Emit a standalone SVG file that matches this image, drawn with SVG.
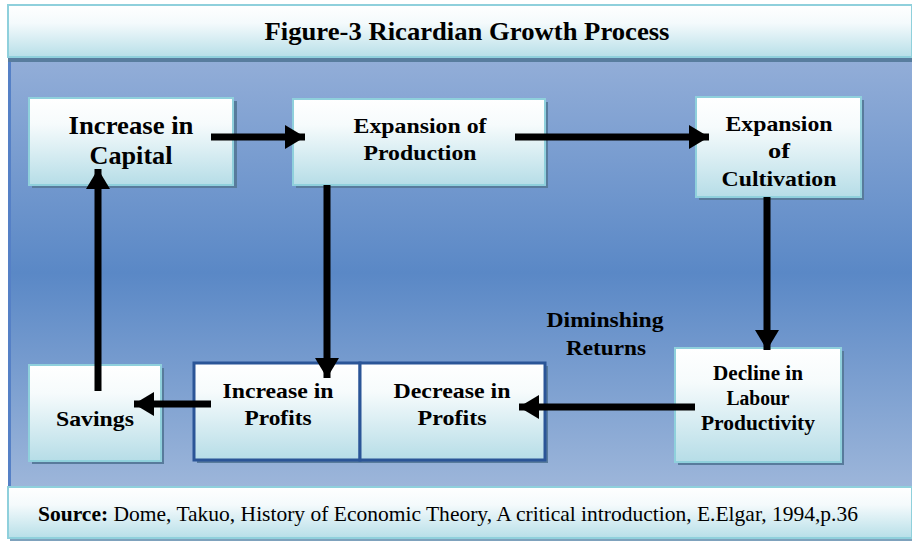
<svg xmlns="http://www.w3.org/2000/svg" width="912" height="542" viewBox="0 0 912 542">
<defs>
<linearGradient id="bg" x1="0" y1="0" x2="0" y2="1">
<stop offset="0" stop-color="#93aed8"/>
<stop offset="0.5" stop-color="#5a88c6"/>
<stop offset="1" stop-color="#9db6da"/>
</linearGradient>
<linearGradient id="bar" x1="0" y1="0" x2="0" y2="1">
<stop offset="0" stop-color="#ffffff"/>
<stop offset="0.35" stop-color="#f4fafc"/>
<stop offset="1" stop-color="#b7dfe8"/>
</linearGradient>
<linearGradient id="box" x1="0" y1="0" x2="0" y2="1">
<stop offset="0" stop-color="#ffffff"/>
<stop offset="0.3" stop-color="#f6fbfc"/>
<stop offset="1" stop-color="#b6dde7"/>
</linearGradient>
<marker id="ah" markerUnits="userSpaceOnUse" markerWidth="22" markerHeight="24" refX="20" refY="12" orient="auto">
<path d="M0,0 L20,12 L0,24 Z" fill="#000"/>
</marker>
<style>
.box{fill:url(#box);stroke:#8fd0dc;stroke-width:2}
.box2{fill:url(#box);stroke:#2b5597;stroke-width:3}
.sh{fill:#587b9c}
.t{font-family:"Liberation Serif","Times New Roman",serif;font-weight:bold;fill:#000;text-anchor:middle}
.a{stroke:#000;stroke-width:7;fill:none;marker-end:url(#ah)}
</style>
</defs>
<rect x="0" y="0" width="912" height="542" fill="#ffffff"/>
<!-- main panel -->
<rect x="8" y="58" width="904" height="430" fill="url(#bg)"/>
<rect x="8" y="58" width="3" height="430" fill="#5580c6"/>
<!-- title bar -->
<g id="title">
<rect x="8" y="57" width="904" height="5" fill="#587d9e"/>
<rect x="8" y="5" width="904" height="52" fill="url(#bar)" stroke="#8fd0dc" stroke-width="2"/>
<text class="t" x="467" y="40" font-size="25" textLength="405" lengthAdjust="spacingAndGlyphs">Figure-3 Ricardian Growth Process</text>
</g>
<!-- source bar -->
<g id="source">
<rect x="10" y="537" width="902" height="4" fill="#7fa2bd"/>
<rect x="8" y="487" width="904" height="51" fill="url(#bar)" stroke="#8fd0dc" stroke-width="2"/>
<text x="38" y="521" font-family="&quot;Liberation Serif&quot;,&quot;Times New Roman&quot;,serif" font-size="21" fill="#000" textLength="820" lengthAdjust="spacingAndGlyphs"><tspan font-weight="bold">Source:</tspan> Dome, Takuo, History of Economic Theory, A critical introduction, E.Elgar, 1994,p.36</text>
</g>
<!-- nodes -->
<g id="capital">
<rect class="sh" x="32" y="101" width="205" height="87"/>
<rect class="box" x="29" y="98" width="204" height="87"/>
<text class="t" x="131" y="134" font-size="25" textLength="125" lengthAdjust="spacingAndGlyphs">Increase in</text>
<text class="t" x="131" y="164" font-size="25" textLength="83" lengthAdjust="spacingAndGlyphs">Capital</text>
</g>
<g id="production">
<rect class="sh" x="296" y="102" width="252" height="86"/>
<rect class="box" x="293" y="99" width="252" height="86"/>
<text class="t" x="420" y="133" font-size="22" textLength="133" lengthAdjust="spacingAndGlyphs">Expansion of</text>
<text class="t" x="420" y="160" font-size="22" textLength="113" lengthAdjust="spacingAndGlyphs">Production</text>
</g>
<g id="cultivation">
<rect class="sh" x="699" y="100" width="165" height="100"/>
<rect class="box" x="696" y="97" width="165" height="100"/>
<text class="t" x="779" y="131" font-size="22" textLength="107" lengthAdjust="spacingAndGlyphs">Expansion</text>
<text class="t" x="779" y="158" font-size="22" textLength="22" lengthAdjust="spacingAndGlyphs">of</text>
<text class="t" x="779" y="186" font-size="22" textLength="115" lengthAdjust="spacingAndGlyphs">Cultivation</text>
</g>
<g id="decline">
<rect class="sh" x="678" y="351" width="166" height="114"/>
<rect class="box" x="675" y="348" width="166" height="114"/>
<text class="t" x="758" y="380" font-size="20" textLength="90" lengthAdjust="spacingAndGlyphs">Decline in</text>
<text class="t" x="758" y="405" font-size="20" textLength="63" lengthAdjust="spacingAndGlyphs">Labour</text>
<text class="t" x="758" y="430" font-size="20" textLength="114" lengthAdjust="spacingAndGlyphs">Productivity</text>
</g>
<g id="savings">
<rect class="sh" x="32" y="368" width="132" height="96"/>
<rect class="box" x="29" y="365" width="132" height="96"/>
<text class="t" x="95" y="426" font-size="22" textLength="78" lengthAdjust="spacingAndGlyphs">Savings</text>
</g>
<g id="incprofits">
<rect class="sh" x="197" y="366" width="351" height="97"/>
<rect class="box2" x="194" y="363" width="166" height="97"/>
<text class="t" x="278" y="398" font-size="22" textLength="111" lengthAdjust="spacingAndGlyphs">Increase in</text>
<text class="t" x="278" y="425" font-size="22" textLength="67" lengthAdjust="spacingAndGlyphs">Profits</text>
</g>
<g id="decprofits">
<rect class="box2" x="360" y="363" width="185" height="97"/>
<text class="t" x="452" y="398" font-size="22" textLength="117" lengthAdjust="spacingAndGlyphs">Decrease in</text>
<text class="t" x="452" y="425" font-size="22" textLength="69" lengthAdjust="spacingAndGlyphs">Profits</text>
</g>
<g id="label">
<text class="t" x="605" y="327" font-size="22" textLength="117" lengthAdjust="spacingAndGlyphs">Diminshing</text>
<text class="t" x="606" y="355" font-size="22" textLength="80" lengthAdjust="spacingAndGlyphs">Returns</text>
</g>
<!-- connectors -->
<g id="connectors">
<line class="a" x1="211" y1="137" x2="305" y2="137"/>
<line class="a" x1="515" y1="137" x2="709" y2="137"/>
<line class="a" x1="767" y1="197" x2="767" y2="350"/>
<line class="a" x1="695" y1="407" x2="519" y2="407"/>
<line class="a" x1="327" y1="185" x2="327" y2="378"/>
<line class="a" x1="211" y1="404" x2="134" y2="404"/>
<line class="a" x1="98" y1="391" x2="98" y2="169"/>
</g>
</svg>
